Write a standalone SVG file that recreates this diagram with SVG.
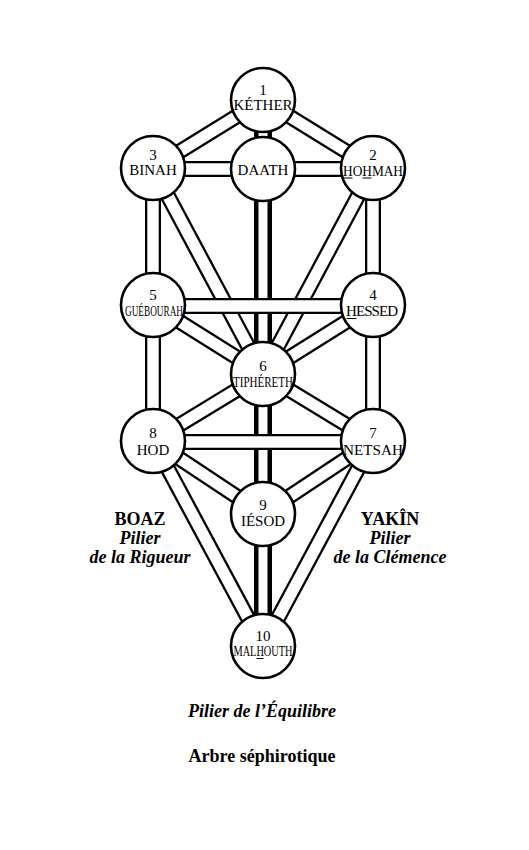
<svg xmlns="http://www.w3.org/2000/svg" width="529" height="850" viewBox="0 0 529 850">
<style>
.bo{stroke:#000;stroke-width:16;fill:none}
.bi{stroke:#fff;stroke-width:11.4;fill:none}
.co{stroke:#000;stroke-width:18;fill:none}
.ci{stroke:#fff;stroke-width:9;fill:none}
.n circle{fill:#fff;stroke:#000;stroke-width:2.6}
.ul{stroke:#000;stroke-width:1}
text{font-family:"Liberation Serif","Times New Roman",serif;fill:#000;text-anchor:middle}
.num{font-size:15px}
.nm{font-size:15px}
.lb{font-size:18px;font-weight:bold}
.li{font-size:18px;font-weight:bold;font-style:italic}
</style>
<rect width="529" height="850" fill="#fff"/>
<g id="connectors">
<line class="bo" x1="263" y1="100" x2="153" y2="168"/><line class="bi" x1="263" y1="100" x2="153" y2="168"/>
<line class="bo" x1="263" y1="100" x2="373" y2="168"/><line class="bi" x1="263" y1="100" x2="373" y2="168"/>
<line class="bo" x1="153" y1="168" x2="153" y2="305"/><line class="bi" x1="153" y1="168" x2="153" y2="305"/>
<line class="bo" x1="373" y1="168" x2="373" y2="305"/><line class="bi" x1="373" y1="168" x2="373" y2="305"/>
<line class="bo" x1="153" y1="305" x2="153" y2="441"/><line class="bi" x1="153" y1="305" x2="153" y2="441"/>
<line class="bo" x1="373" y1="305" x2="373" y2="441"/><line class="bi" x1="373" y1="305" x2="373" y2="441"/>
<line class="bo" x1="153" y1="168" x2="263" y2="374"/><line class="bi" x1="153" y1="168" x2="263" y2="374"/>
<line class="bo" x1="373" y1="168" x2="263" y2="374"/><line class="bi" x1="373" y1="168" x2="263" y2="374"/>
<line class="bo" x1="153" y1="305" x2="263" y2="374"/><line class="bi" x1="153" y1="305" x2="263" y2="374"/>
<line class="bo" x1="373" y1="305" x2="263" y2="374"/><line class="bi" x1="373" y1="305" x2="263" y2="374"/>
<line class="bo" x1="263" y1="374" x2="153" y2="441"/><line class="bi" x1="263" y1="374" x2="153" y2="441"/>
<line class="bo" x1="263" y1="374" x2="373" y2="441"/><line class="bi" x1="263" y1="374" x2="373" y2="441"/>
<line class="bo" x1="153" y1="441" x2="263" y2="514"/><line class="bi" x1="153" y1="441" x2="263" y2="514"/>
<line class="bo" x1="373" y1="441" x2="263" y2="514"/><line class="bi" x1="373" y1="441" x2="263" y2="514"/>
<line class="bo" x1="153" y1="441" x2="263" y2="646"/><line class="bi" x1="153" y1="441" x2="263" y2="646"/>
<line class="bo" x1="373" y1="441" x2="263" y2="646"/><line class="bi" x1="373" y1="441" x2="263" y2="646"/>
<line class="co" x1="263" y1="100" x2="263" y2="646"/><line class="ci" x1="263" y1="100" x2="263" y2="646"/>
<line class="bo" x1="153" y1="169" x2="373" y2="169"/><line class="bi" x1="153" y1="169" x2="373" y2="169"/>
<line class="bo" x1="153" y1="306" x2="373" y2="306"/><line class="bi" x1="153" y1="306" x2="373" y2="306"/>
<line class="bo" x1="153" y1="442" x2="373" y2="442"/><line class="bi" x1="153" y1="442" x2="373" y2="442"/>
</g>
<g id="kether" class="n"><circle cx="263" cy="100" r="32"/><text class="num" x="263" y="95">1</text><text class="nm" x="263" y="110">KÉTHER</text></g>
<g id="binah" class="n"><circle cx="153" cy="168" r="32"/><text class="num" x="153" y="160">3</text><text class="nm" x="153" y="175">BINAH</text></g>
<g id="daath" class="n"><circle cx="263" cy="169" r="32"/><text class="nm" x="263" y="175">DAATH</text></g>
<g id="hohmah" class="n"><circle cx="373" cy="168" r="32"/><text class="num" x="373" y="159.5">2</text><text class="nm" x="373" y="175.5" textLength="60" lengthAdjust="spacingAndGlyphs">HOHMAH</text><line class="ul" x1="343.5" y1="178" x2="352.5" y2="178"/><line class="ul" x1="362.5" y1="178" x2="371.5" y2="178"/></g>
<g id="guebourah" class="n"><circle cx="153" cy="305" r="32"/><text class="num" x="153" y="300">5</text><text class="nm" x="154" y="316" font-size="13" textLength="58" lengthAdjust="spacingAndGlyphs">GUÉBOURAH</text></g>
<g id="hessed" class="n"><circle cx="373" cy="305" r="32"/><text class="num" x="373" y="300">4</text><text class="nm" x="372" y="316" textLength="52" lengthAdjust="spacing">HESSED</text><line class="ul" x1="346.5" y1="318.5" x2="356.5" y2="318.5"/></g>
<g id="tiphereth" class="n"><circle cx="263" cy="374" r="32"/><text class="num" x="263" y="371">6</text><text class="nm" x="263" y="387" font-size="14" textLength="60" lengthAdjust="spacingAndGlyphs">TIPHÉRETH</text></g>
<g id="hod" class="n"><circle cx="153" cy="441" r="32"/><text class="num" x="153" y="438">8</text><text class="nm" x="153" y="455">HOD</text></g>
<g id="netsah" class="n"><circle cx="373" cy="441" r="32"/><text class="num" x="373" y="438">7</text><text class="nm" x="373" y="455" textLength="60" lengthAdjust="spacingAndGlyphs">NETSAH</text></g>
<g id="iesod" class="n"><circle cx="263" cy="514" r="32"/><text class="num" x="263" y="510">9</text><text class="nm" x="263" y="526">IÉSOD</text></g>
<g id="malhouth" class="n"><circle cx="263" cy="646" r="32"/><text class="num" x="263" y="641">10</text><text class="nm" x="263" y="656" font-size="14" textLength="59" lengthAdjust="spacingAndGlyphs">MALHOUTH</text><line class="ul" x1="256.5" y1="658.5" x2="263.5" y2="658.5"/></g>
<g id="labels">
<text class="lb" x="140" y="525">BOAZ</text>
<text class="li" x="140" y="544">Pilier</text>
<text class="li" x="140" y="563">de la Rigueur</text>
<text class="lb" x="390" y="525">YAKÎN</text>
<text class="li" x="390" y="544">Pilier</text>
<text class="li" x="390" y="563">de la Clémence</text>
<text class="li" x="262" y="717">Pilier de l’Équilibre</text>
<text class="lb" x="262" y="762">Arbre séphirotique</text>
</g>
</svg>
